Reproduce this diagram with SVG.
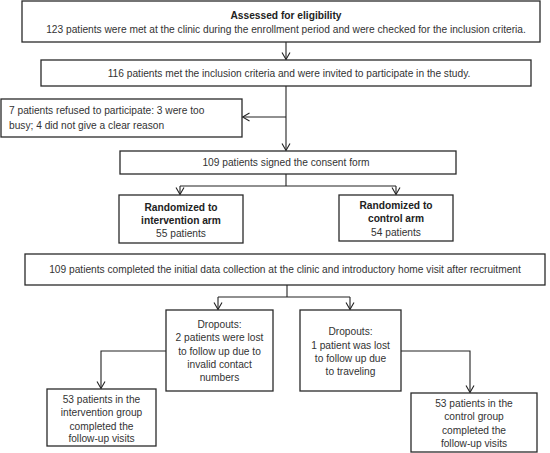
<svg xmlns="http://www.w3.org/2000/svg" width="550" height="453" viewBox="0 0 550 453">
<style>
.box{fill:#fff;stroke:#2a2a2a;stroke-width:1.3}
.t{font-family:"Liberation Sans",Arial,sans-serif;font-size:10.2px;fill:#333;text-anchor:middle}
.l{text-anchor:start}
.b{font-weight:bold;fill:#222}
.c{fill:none;stroke:#222;stroke-width:1.1}
</style>
<defs>
<marker id="ah" viewBox="-8 -5 9 10" refX="0" refY="0" markerWidth="9" markerHeight="10" markerUnits="userSpaceOnUse" orient="auto">
<path d="M-7,-4 L0,0 L-7,4" fill="none" stroke="#222" stroke-width="1.1"/>
</marker>
</defs>
<rect width="550" height="453" fill="#fff"/>
<g id="connectors">
<line class="c" x1="286" y1="42" x2="286" y2="59.5" marker-end="url(#ah)"/>
<line class="c" x1="286" y1="86" x2="286" y2="150.5" marker-end="url(#ah)"/>
<line class="c" x1="286" y1="117" x2="242.5" y2="117" marker-end="url(#ah)"/>
<polyline class="c" points="286,174 286,186"/>
<polyline class="c" points="180,186 396,186"/>
<line class="c" x1="180" y1="186" x2="180" y2="194.5" marker-end="url(#ah)"/>
<line class="c" x1="396" y1="186" x2="396" y2="194.5" marker-end="url(#ah)"/>
<polyline class="c" points="287,285 287,297"/>
<polyline class="c" points="218,297 350,297"/>
<line class="c" x1="218" y1="297" x2="218" y2="309.5" marker-end="url(#ah)"/>
<line class="c" x1="350" y1="297" x2="350" y2="309.5" marker-end="url(#ah)"/>
<polyline class="c" points="166,351 101,351 101,388.5" marker-end="url(#ah)"/>
<polyline class="c" points="401,351 470,351 470,392.5" marker-end="url(#ah)"/>
</g>
<g id="assessed">
<rect class="box" x="22" y="1" width="518" height="41"/>
<text class="t b" x="286" y="18.5">Assessed for eligibility</text>
<text class="t" x="286" y="32.5">123 patients were met at the clinic during the enrollment period and were checked for the inclusion criteria.</text>
</g>
<g id="met-criteria">
<rect class="box" x="41" y="60" width="490" height="26"/>
<text class="t" x="289" y="77">116 patients met the inclusion criteria and were invited to participate in the study.</text>
</g>
<g id="refused">
<rect class="box" x="1" y="99" width="241" height="38"/>
<text class="t l" x="9" y="113.5">7 patients refused to participate: 3 were too</text>
<text class="t l" x="9" y="128.5">busy; 4 did not give a clear reason</text>
</g>
<g id="consent">
<rect class="box" x="120" y="151" width="336" height="23"/>
<text class="t" x="286" y="166">109 patients signed the consent form</text>
</g>
<g id="intervention-arm">
<rect class="box" x="119" y="195" width="124" height="48"/>
<text class="t b" x="181" y="210.5">Randomized to</text>
<text class="t b" x="181" y="223.5">intervention arm</text>
<text class="t" x="181" y="236.5">55 patients</text>
</g>
<g id="control-arm">
<rect class="box" x="339" y="195" width="114" height="46"/>
<text class="t b" x="396" y="208.5">Randomized to</text>
<text class="t b" x="396" y="222">control arm</text>
<text class="t" x="396" y="235.5">54 patients</text>
</g>
<g id="initial-data">
<rect class="box" x="25" y="254" width="520" height="31"/>
<text class="t" x="285" y="273">109 patients completed the initial data collection  at the clinic and introductory home visit after recruitment</text>
</g>
<g id="dropouts-intervention">
<rect class="box" x="166" y="310" width="107" height="81"/>
<text class="t" x="219.5" y="327.5">Dropouts:</text>
<text class="t" x="219.5" y="341">2 patients were lost</text>
<text class="t" x="219.5" y="354.5">to follow up due to</text>
<text class="t" x="219.5" y="367.5">invalid contact</text>
<text class="t" x="219.5" y="381">numbers</text>
</g>
<g id="dropouts-control">
<rect class="box" x="300" y="310" width="101" height="81"/>
<text class="t" x="350.5" y="335">Dropouts:</text>
<text class="t" x="350.5" y="348.5">1 patient was lost</text>
<text class="t" x="350.5" y="361.5">to follow up due</text>
<text class="t" x="350.5" y="374.5">to traveling</text>
</g>
<g id="completed-intervention">
<rect class="box" x="47" y="389" width="109" height="57"/>
<text class="t" x="101.5" y="402.5">53 patients in the</text>
<text class="t" x="101.5" y="416">intervention group</text>
<text class="t" x="101.5" y="429.5">completed the</text>
<text class="t" x="101.5" y="442">follow-up visits</text>
</g>
<g id="completed-control">
<rect class="box" x="411" y="393" width="126" height="59"/>
<text class="t" x="474" y="406.5">53 patients in the</text>
<text class="t" x="474" y="420">control group</text>
<text class="t" x="474" y="433.5">completed the</text>
<text class="t" x="474" y="446.5">follow-up visits</text>
</g>
</svg>
